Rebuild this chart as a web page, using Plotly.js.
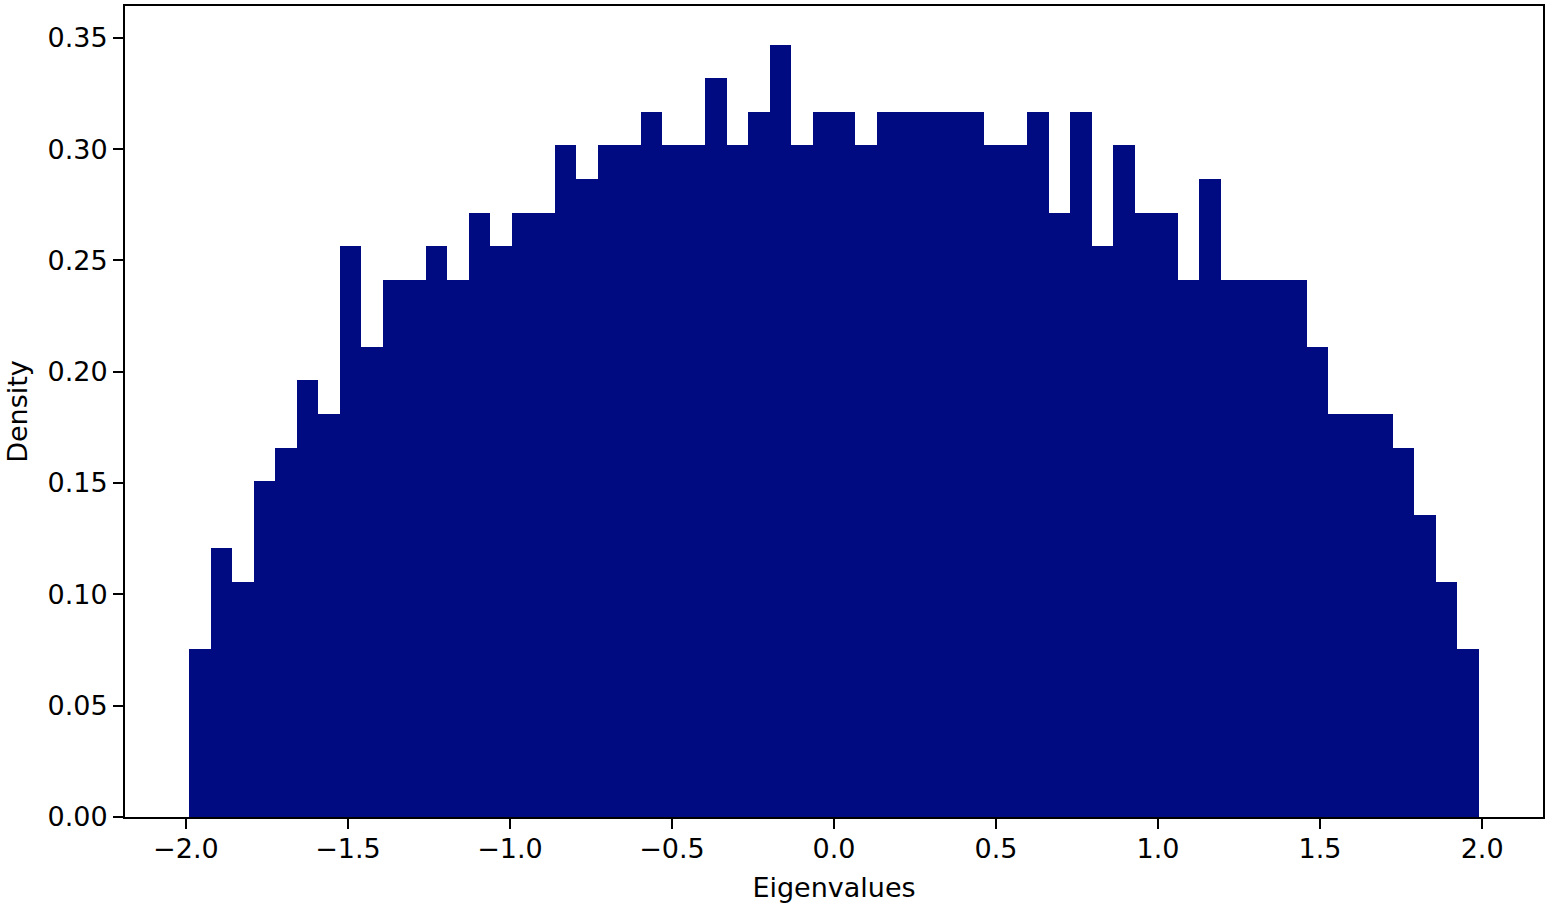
<!DOCTYPE html>
<html>
<head>
<meta charset="utf-8">
<script src="https://cdn.plot.ly/plotly-3.0.1.min.js"></script>
<style>
  html, body { margin: 0; padding: 0; background: #fff; }
  #chart { width: 1556px; height: 910px; }
</style>
</head>
<body>
<div id="chart"></div>
<script>
// histogram of 1000 eigenvalues, 60 equal bins
const binStart = -1.989;
const binEnd = 1.989;
const sampleCount = 1000;
const binCounts = [
    5, 8, 7, 10, 11, 13, 12, 17, 14, 16,
    16, 17, 16, 18, 17, 18, 18, 20, 19, 20,
    20, 21, 20, 20, 22, 20, 21, 23, 20, 21,
    21, 20, 21, 21, 21, 21, 21, 20, 20, 21,
    18, 21, 17, 20, 18, 18, 16, 19, 16, 16,
    16, 16, 14, 12, 12, 12, 11, 9, 7, 5
];
const xTicks = [-2.0, -1.5, -1.0, -0.5, 0.0, 0.5, 1.0, 1.5, 2.0];
const yTicks = [0.00, 0.05, 0.10, 0.15, 0.20, 0.25, 0.30, 0.35];

const binWidth = (binEnd - binStart) / binCounts.length;
const centers = binCounts.map((c, i) => binStart + (i + 0.5) * binWidth);
const density = binCounts.map(c => c / (sampleCount * binWidth));

const pad = 0.05 * (binEnd - binStart);
const yMax = Math.max(...density) * 1.05;

const font = { family: 'DejaVu Sans, sans-serif', size: 27, color: '#000' };

const trace = {
    type: 'bar',
    x: centers,
    y: density,
    width: binWidth,
    marker: { color: '#000b82', line: { width: 0 } },
    hoverinfo: 'x+y'
};

const axisCommon = {
    showline: true,
    mirror: true,
    linecolor: '#000',
    linewidth: 2,
    ticks: 'outside',
    ticklen: 10,
    tickwidth: 2,
    tickcolor: '#000',
    showgrid: false,
    zeroline: false,
    tickfont: font
};

const layout = {
    width: 1556,
    height: 910,
    margin: { l: 125, r: 13, t: 6, b: 93 },
    paper_bgcolor: '#fff',
    plot_bgcolor: '#fff',
    font: font,
    showlegend: false,
    bargap: 0,
    xaxis: Object.assign({}, axisCommon, {
        range: [binStart - pad, binEnd + pad],
        tickvals: xTicks,
        tickformat: '.1f',
        ticklabelstandoff: -3,
        title: { text: 'Eigenvalues', font: font, standoff: 15 }
    }),
    yaxis: Object.assign({}, axisCommon, {
        range: [0, yMax],
        tickvals: yTicks,
        tickformat: '.2f',
        title: { text: 'Density', font: font, standoff: 12 }
    })
};

Plotly.newPlot('chart', [trace], layout, { displayModeBar: false, staticPlot: true });
</script>
</body>
</html>
